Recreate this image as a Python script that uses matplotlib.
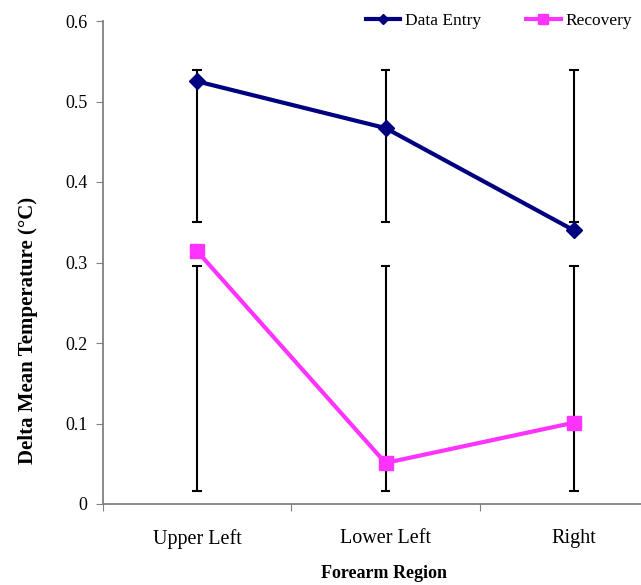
import matplotlib
matplotlib.use("Agg")
import matplotlib.pyplot as plt

regions = ["Upper Left", "Lower Left", "Right"]

entry_mean = [0.525, 0.467, 0.340]
entry_low = [0.350, 0.350, 0.350]
entry_high = [0.539, 0.539, 0.539]

recov_mean = [0.314, 0.051, 0.101]
recov_low = [0.016, 0.016, 0.016]
recov_high = [0.296, 0.296, 0.296]

plt.rcParams['font.family'] = ['Liberation Serif', 'DejaVu Serif']

fig = plt.figure(figsize=(6.41, 5.85), dpi=100)
# the original chart is cut off at the right edge, so the axes run past the figure
ax = fig.add_axes([103/641, 1 - 504/585, 565/641, 483/585])

x = [0.5, 1.5, 2.5]

# error bars drawn from the bounds (they do not sit symmetrically on the means)
ax.vlines(x, entry_low, entry_high, color='black', lw=1.5, zorder=1)
ax.vlines(x, recov_low, recov_high, color='black', lw=1.5, zorder=1)
for lo, hi in [(entry_low, entry_high), (recov_low, recov_high)]:
    ax.hlines(lo, [v - 0.025 for v in x], [v + 0.025 for v in x], color='black', lw=1.5, zorder=1)
    ax.hlines(hi, [v - 0.025 for v in x], [v + 0.025 for v in x], color='black', lw=1.5, zorder=1)

ax.plot(x, entry_mean, color='#000080', lw=3, marker='D', markersize=8, label='Data Entry', zorder=3)
ax.plot(x, recov_mean, color='#FF33FF', lw=3, marker='s', markersize=10, label='Recovery', zorder=3)

ax.set_xlim(0, 3)
ax.set_ylim(0, 0.6)
ax.set_yticks([0, 0.1, 0.2, 0.3, 0.4, 0.5, 0.6])
ax.set_yticklabels(['0', '0.1', '0.2', '0.3', '0.4', '0.5', '0.6'])
ax.set_xticks([0, 1, 2, 3])
ax.set_xticklabels([])
ax.set_xticks(x, minor=True)
ax.set_xticklabels(regions, minor=True)
ax.tick_params(axis='x', which='minor', length=0, pad=18, labelsize=14.5)
ax.tick_params(axis='x', which='major', direction='out', length=5, color='#808080')
ax.tick_params(axis='y', direction='out', length=5, color='#808080', labelsize=13, pad=6)

for s in ['top', 'right']:
    ax.spines[s].set_visible(False)
for s in ['left', 'bottom']:
    ax.spines[s].set_color('#808080')
    ax.spines[s].set_linewidth(1.3)

ax.set_xlabel('Forearm Region', fontsize=13, fontweight='bold')
ax.set_ylabel('Delta Mean Temperature (°C)', fontsize=15, fontweight='bold')
ax.xaxis.set_label_coords(0.497, -0.126)
ax.yaxis.set_label_coords(-0.115, 0.36)

leg = ax.legend(loc='upper left', bbox_to_anchor=(247/565, 1.05), ncol=2, frameon=False,
                fontsize=12.5, handlelength=2.0, handletextpad=0.25, columnspacing=2.6,
                markerscale=0.7)

fig.savefig('out.png', dpi=100)
